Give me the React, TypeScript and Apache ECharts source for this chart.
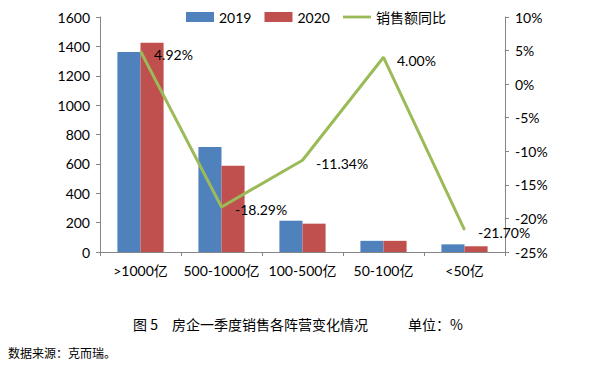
import React, { useEffect, useRef } from "react";
import * as echarts from "echarts";

const categories = [">1000亿", "500-1000亿", "100-500亿", "50-100亿", "<50亿"];
const sales2019 = [1362, 715, 213, 76, 52];
const sales2020 = [1425, 588, 193, 76, 39];
const yoy = [4.92, -18.29, -11.34, 4.0, -21.7];
const leftTicks = { min: 0, max: 1600, interval: 200 };
const rightTicks = { min: -25, max: 10, interval: 5 };

const FONT = "Lato, 'Noto Sans CJK SC', sans-serif";

export default function App() {
  const ref = useRef<HTMLDivElement>(null);
  useEffect(() => {
    document.body.style.margin = "0";
    const chart = echarts.init(ref.current!, null, { renderer: "svg" });
    const axisLine = { show: true, lineStyle: { color: "#868686", width: 1 } };
    const tick = { show: true, length: 4, lineStyle: { color: "#868686" } };
    chart.setOption({
      animation: false,
      backgroundColor: "#fff",
      textStyle: { fontFamily: FONT },
      grid: { left: 100, right: 89, top: 17, bottom: 118 },
      legend: {
        top: 10,
        left: 186,
        padding: 0,
        itemWidth: 28,
        itemHeight: 10,
        itemGap: 13,
        textStyle: { fontSize: 14, color: "#000", fontFamily: FONT },
        data: [
          { name: "2019", icon: "rect" },
          { name: "2020", icon: "rect" },
          { name: "销售额同比", icon: "path://M0,0 L30,0 L30,3 L0,3 Z" },
        ],
      },
      xAxis: {
        type: "category",
        data: categories,
        axisLine,
        axisTick: tick,
        axisLabel: { color: "#000", fontSize: 14, margin: 11, interval: 0, fontFamily: FONT },
      },
      yAxis: [
        {
          type: "value",
          ...leftTicks,
          axisLine,
          axisTick: tick,
          splitLine: { show: false },
          axisLabel: { color: "#000", fontSize: 14, margin: 10, fontFamily: FONT, formatter: (v: number) => String(v) },
        },
        {
          type: "value",
          ...rightTicks,
          position: "right",
          axisLine,
          axisTick: tick,
          splitLine: { show: false },
          axisLabel: { color: "#000", fontSize: 14, margin: 10, formatter: "{value}%", fontFamily: FONT },
        },
      ],
      series: [
        {
          name: "2019",
          type: "bar",
          data: sales2019,
          barGap: "0%",
          barCategoryGap: "43%",
          itemStyle: { color: "#4F81BD" },
        },
        {
          name: "2020",
          type: "bar",
          data: sales2020,
          itemStyle: { color: "#C0504D" },
        },
        {
          name: "销售额同比",
          type: "line",
          yAxisIndex: 1,
          data: yoy,
          symbol: "circle",
          symbolSize: 1,
          showSymbol: true,
          lineStyle: { color: "#9BBB59", width: 3 },
          itemStyle: { color: "#9BBB59" },
          label: {
            show: true,
            position: "right",
            distance: 13,
            offset: [0, 3],
            color: "#000",
            fontSize: 14,
            fontFamily: FONT,
            formatter: (p: any) => Number(p.value).toFixed(2) + "%",
          },
        },
      ],
      graphic: [
        {
          type: "text",
          left: 133,
          top: 317,
          style: {
            text: "图 5　房企一季度销售各阵营变化情况",
            fontSize: 14,
            fill: "#000",
            fontFamily: "'Noto Sans CJK SC', serif",
          },
        },
        {
          type: "text",
          left: 408,
          top: 317,
          style: {
            text: "单位：%",
            fontSize: 14,
            fill: "#000",
            fontFamily: "'Noto Sans CJK SC', serif",
          },
        },
        {
          type: "text",
          left: 8,
          top: 346,
          style: {
            text: "数据来源：克而瑞。",
            fontSize: 12,
            fill: "#000",
            fontFamily: "'Noto Sans CJK SC', serif",
          },
        },
      ],
    });
    return () => chart.dispose();
  }, []);
  return <div ref={ref} style={{ width: 594, height: 370 }} />;
}
